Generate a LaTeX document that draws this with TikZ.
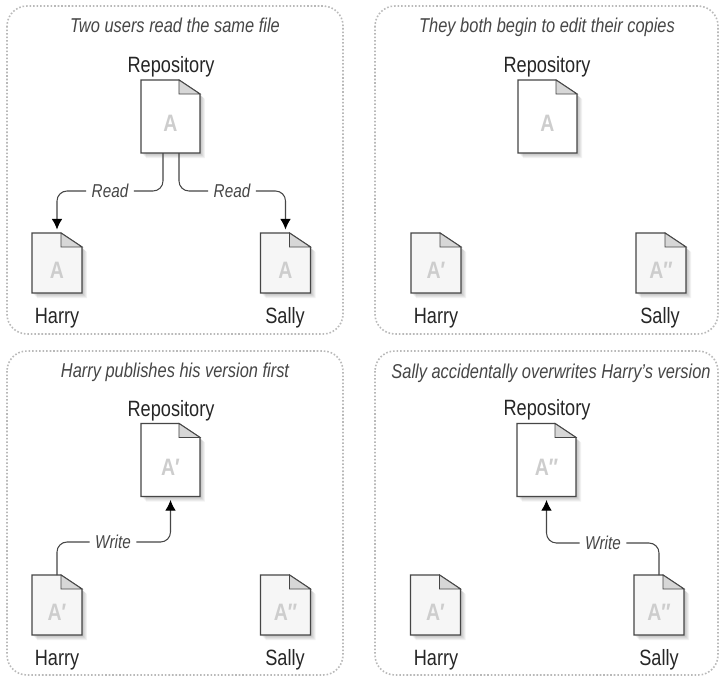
\documentclass[tikz,border=0pt]{standalone}
\usepackage{fontspec}
\setmainfont{Liberation Sans}[FakeStretch=0.82]
\usetikzlibrary{arrows.meta}
\definecolor{panelgray}{RGB}{185,185,185}
\definecolor{inkgray}{RGB}{70,70,70}
\definecolor{lettergray}{RGB}{205,205,205}
\definecolor{eargray}{RGB}{215,215,215}
\definecolor{paperwhite}{RGB}{246,246,246}

\tikzset{
    panelbox/.style={draw=panelgray, line width=0.9pt, dash pattern=on 0.9pt off 1.1pt, rounded corners=0.4cm},
    paneltitle/.style={text=inkgray, font=\fontsize{11.4}{13}\selectfont\itshape, inner sep=0pt, anchor=base},
    filelabel/.style={text=black!85, font=\fontsize{12.6}{14}\selectfont, inner sep=0pt, anchor=base},
    fileletter/.style={text=lettergray, font=\fontsize{13.5}{15}\selectfont\bfseries, inner sep=0pt},
    repofile/.style={minimum width=1.18cm, minimum height=1.46cm, inner sep=0pt, outer sep=0pt},
    userfile/.style={minimum width=1cm, minimum height=1.2cm, inner sep=0pt, outer sep=0pt},
    flowlabel/.style={text=inkgray, font=\fontsize{10.6}{12}\selectfont\itshape, inner sep=3pt},
    flowline/.style={draw=inkgray, line width=0.6pt, rounded corners=0.2cm},
    flowarrow/.style={flowline, -{Latex[length=6pt,width=6pt,black]}, shorten >=0.07cm},
}

% page with folded corner: style, name, position, letter, paper colour
\newcommand{\filedoc}[5]{
    \node[#1] (#2) at #3 {};
    \foreach \d in {1,2,3,4,5}
        \fill[black, opacity=0.05] ([shift={(\d,\d)}]#2.north east) ++(-21,0) -- ++(21,14) -- ([shift={(\d,\d)}]#2.south east) -- ([shift={(\d,\d)}]#2.south west) -- ([shift={(\d,\d)}]#2.north west) -- cycle;
    \draw[draw=inkgray, line width=0.7pt, fill=#5] (#2.north east) ++(-21,0) -- ++(21,14) -- (#2.south east) -- (#2.south west) -- (#2.north west) -- cycle;
    \draw[draw=inkgray, line width=0.5pt, fill=eargray] (#2.north east) ++(-21,0) -- ++(0,14) -- ++(21,0) -- cycle;
    \node[fileletter] (#2letter) at ([yshift=-0.14cm]#2.center) {#4};
}

\begin{document}
\begin{tikzpicture}[x=0.02cm, y=-0.02cm]
    \useasboundingbox (0,0) rectangle (719,677);
    \fill[white] (0,0) rectangle (719,677);

    % Panels
    \draw[panelbox] (7,6) rectangle (343,334);
    \draw[panelbox] (375,6) rectangle (718,334);
    \draw[panelbox] (7,351) rectangle (343,675);
    \draw[panelbox] (375,351) rectangle (718,675);

    % Two users read the same file
    \node[paneltitle] (title1) at (175,32) {Two users read the same file};
    \node[filelabel] (repolabel1) at (171,72) {Repository};
    \filedoc{repofile}{repo1}{(170.5,116.5)}{A}{white}
    \filedoc{userfile}{harry1}{(57,263)}{A}{paperwhite}
    \filedoc{userfile}{sally1}{(285.5,263)}{A}{paperwhite}
    \node[filelabel] (harrylabel1) at (57,323) {Harry};
    \node[filelabel] (sallylabel1) at (285,323) {Sally};
    \node[flowlabel] (readleft) at (110,191) {Read};
    \node[flowlabel] (readright) at (232,191) {Read};
    \draw[flowline] ([xshift=-0.15cm]repo1.south) |- (readleft.east);
    \draw[flowarrow] (readleft.west) -| (harry1.north);
    \draw[flowline] ([xshift=0.17cm]repo1.south) |- (readright.west);
    \draw[flowarrow] (readright.east) -| (sally1.north);

    % They both begin to edit their copies
    \node[paneltitle] (title2) at (547,32) {They both begin to edit their copies};
    \node[filelabel] (repolabel2) at (547,72) {Repository};
    \filedoc{repofile}{repo2}{(547.5,116.5)}{A}{white}
    \filedoc{userfile}{harry2}{(436,263)}{A′}{paperwhite}
    \filedoc{userfile}{sally2}{(661,263)}{A″}{paperwhite}
    \node[filelabel] (harrylabel2) at (436,323) {Harry};
    \node[filelabel] (sallylabel2) at (660,323) {Sally};

    % Harry publishes his version first
    \node[paneltitle] (title3) at (175,377) {Harry publishes his version first};
    \node[filelabel] (repolabel3) at (171,416) {Repository};
    \filedoc{repofile}{repo3}{(170.5,460)}{A′}{white}
    \filedoc{userfile}{harry3}{(57,605)}{A′}{paperwhite}
    \filedoc{userfile}{sally3}{(285.5,605)}{A″}{paperwhite}
    \node[filelabel] (harrylabel3) at (57,665) {Harry};
    \node[filelabel] (sallylabel3) at (285,665) {Sally};
    \node[flowlabel] (writeleft) at (113,542) {Write};
    \draw[flowline] (harry3.north) |- (writeleft.west);
    \draw[flowarrow] (writeleft.east) -| (repo3.south);

    % Sally accidentally overwrites Harry's version
    \node[paneltitle] (title4) at (551,378) {Sally accidentally overwrites Harry’s version};
    \node[filelabel] (repolabel4) at (547,415) {Repository};
    \filedoc{repofile}{repo4}{(546.5,460)}{A″}{white}
    \filedoc{userfile}{harry4}{(435.5,605)}{A′}{paperwhite}
    \filedoc{userfile}{sally4}{(659,605)}{A″}{paperwhite}
    \node[filelabel] (harrylabel4) at (436,665) {Harry};
    \node[filelabel] (sallylabel4) at (659,665) {Sally};
    \node[flowlabel] (writeright) at (603,543) {Write};
    \draw[flowline] (sally4.north) |- (writeright.east);
    \draw[flowarrow] (writeright.west) -| (repo4.south);
\end{tikzpicture}
\end{document}
